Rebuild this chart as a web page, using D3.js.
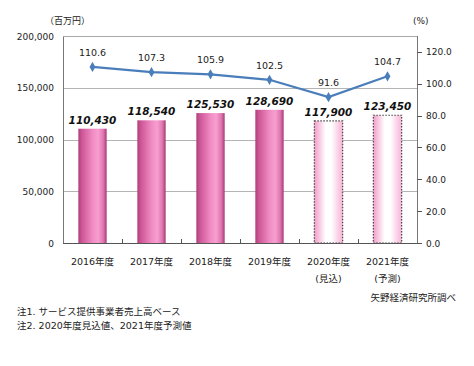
<!DOCTYPE html>
<meta charset="utf-8">
<style>
    body { margin: 0; background: #fff; }
    text {
        font-family: "DejaVu Sans", "Noto Sans CJK JP", sans-serif;
        fill: #222;
    }
    .grid line { stroke: #b4b4b4; stroke-width: 1; }
</style>
<svg width="474" height="366"></svg>
<script src="https://d3js.org/d3.v7.min.js"></script>
<script>
    var years = ["2016年度", "2017年度", "2018年度", "2019年度", "2020年度", "2021年度"];
    var subLabels = ["", "", "", "", "(見込)", "(予測)"];
    var sales = [110430, 118540, 125530, 128690, 117900, 123450];
    var growth = [110.6, 107.3, 105.9, 102.5, 91.6, 104.7];
    var forecast = [false, false, false, false, true, true];
    var leftTicks = [0, 50000, 100000, 150000, 200000];
    var rightTicks = [0, 20, 40, 60, 80, 100, 120];

    var svg = d3.select("svg");
    var plotLeft = 63, plotRight = 417, plotTop = 36, plotBottom = 243;

    var x = d3.scaleBand().domain(years).range([plotLeft, plotRight]).paddingInner(0).paddingOuter(0);
    var y = d3.scaleLinear().domain([0, 200000]).range([plotBottom, plotTop]);
    var y2 = d3.scaleLinear().domain([0, 130]).range([plotBottom, plotTop]);
    var fmt = d3.format(",");

    var defs = svg.append("defs");
    var g1 = defs.append("linearGradient").attr("id", "barGrad");
    [["0%", "#ad3f78"], ["12%", "#cc5596"], ["50%", "#f08bc3"], ["70%", "#f79fd0"], ["88%", "#e075b2"], ["100%", "#a53a72"]]
        .forEach(function (s) { g1.append("stop").attr("offset", s[0]).attr("stop-color", s[1]); });
    var g2 = defs.append("linearGradient").attr("id", "foreGrad");
    [["0%", "#f39cc9"], ["40%", "#ffffff"], ["60%", "#ffffff"], ["100%", "#f7b3d6"]]
        .forEach(function (s) { g2.append("stop").attr("offset", s[0]).attr("stop-color", s[1]); });

    // gridlines
    svg.append("g").attr("class", "grid")
        .selectAll("line")
        .data(leftTicks.slice(1))
        .enter().append("line")
        .attr("x1", plotLeft).attr("x2", plotRight)
        .attr("y1", function (d) { return Math.round(y(d)) + 0.5; })
        .attr("y2", function (d) { return Math.round(y(d)) + 0.5; });

    // bars
    var bw = x.bandwidth() * 0.48;
    svg.append("g").selectAll("rect")
        .data(years)
        .enter().append("rect")
        .attr("x", function (d) { return x(d) + (x.bandwidth() - bw) / 2; })
        .attr("width", bw)
        .attr("y", function (d, i) { return y(sales[i]); })
        .attr("height", function (d, i) { return plotBottom - y(sales[i]); })
        .attr("fill", function (d, i) { return forecast[i] ? "url(#foreGrad)" : "url(#barGrad)"; })
        .attr("stroke", function (d, i) { return forecast[i] ? "#444" : "none"; })
        .attr("stroke-width", 1.2)
        .attr("stroke-dasharray", "1.5,1.5");

    // bar labels
    svg.append("g").selectAll("text")
        .data(years)
        .enter().append("text")
        .attr("x", function (d) { return x(d) + x.bandwidth() / 2; })
        .attr("y", function (d, i) { return y(sales[i]) - 5; })
        .attr("text-anchor", "middle")
        .style("font-size", "10.5px")
        .style("font-weight", "bold")
        .style("font-style", "italic")
        .style("fill", "#111")
        .text(function (d, i) { return fmt(sales[i]); });

    // axes frame
    svg.append("line").attr("x1", plotLeft + 0.5).attr("x2", plotLeft + 0.5).attr("y1", plotTop).attr("y2", plotBottom).attr("stroke", "#777");
    svg.append("line").attr("x1", plotRight + 0.5).attr("x2", plotRight + 0.5).attr("y1", plotTop).attr("y2", plotBottom).attr("stroke", "#777");
    svg.append("line").attr("x1", plotLeft).attr("x2", plotRight).attr("y1", plotTop + 0.5).attr("y2", plotTop + 0.5).attr("stroke", "#aaa");
    svg.append("line").attr("x1", plotLeft).attr("x2", plotRight + 1).attr("y1", plotBottom + 0.5).attr("y2", plotBottom + 0.5).attr("stroke", "#555");

    // x ticks (inward)
    svg.append("g").selectAll("line")
        .data(years.slice(1))
        .enter().append("line")
        .attr("x1", function (d) { return Math.round(x(d)) + 0.5; })
        .attr("x2", function (d) { return Math.round(x(d)) + 0.5; })
        .attr("y1", plotBottom).attr("y2", plotBottom - 4)
        .attr("stroke", "#555");

    // left tick labels
    svg.append("g").selectAll("text")
        .data(leftTicks)
        .enter().append("text")
        .attr("x", 54)
        .attr("y", function (d) { return y(d) + 3.5; })
        .attr("text-anchor", "end")
        .style("font-size", "9px")
        .text(function (d) { return fmt(d); });

    // right axis ticks + labels
    svg.append("g").selectAll("line")
        .data(rightTicks)
        .enter().append("line")
        .attr("x1", plotRight).attr("x2", plotRight + 5)
        .attr("y1", function (d) { return Math.round(y2(d)) + 0.5; })
        .attr("y2", function (d) { return Math.round(y2(d)) + 0.5; })
        .attr("stroke", "#555");
    svg.append("g").selectAll("text")
        .data(rightTicks)
        .enter().append("text")
        .attr("x", 426)
        .attr("y", function (d) { return y2(d) + 3.5; })
        .style("font-size", "9px")
        .text(function (d) { return d.toFixed(1); });

    // growth line
    var cx = function (i) { return x(years[i]) + x.bandwidth() / 2; };
    var line = d3.line()
        .x(function (d, i) { return cx(i); })
        .y(function (d) { return y2(d); });
    svg.append("path")
        .datum(growth)
        .attr("d", line)
        .attr("fill", "none")
        .attr("stroke", "#4a7ebb")
        .attr("stroke-width", 2.2);
    svg.append("g").selectAll("path")
        .data(growth)
        .enter().append("path")
        .attr("d", d3.symbol().type(d3.symbolDiamond).size(30))
        .attr("transform", function (d, i) { return "translate(" + cx(i) + "," + y2(d) + ")"; })
        .attr("fill", "#4a7ebb");
    svg.append("g").selectAll("text")
        .data(growth)
        .enter().append("text")
        .attr("x", function (d, i) { return cx(i); })
        .attr("y", function (d) { return y2(d) - 11; })
        .attr("text-anchor", "middle")
        .style("font-size", "9.5px")
        .text(function (d) { return d.toFixed(1); });

    // x labels
    svg.append("g").selectAll("text")
        .data(years)
        .enter().append("text")
        .attr("x", function (d) { return x(d) + x.bandwidth() / 2; })
        .attr("y", 265)
        .attr("text-anchor", "middle")
        .style("font-size", "9.5px")
        .text(function (d) { return d; });
    svg.append("g").selectAll("text")
        .data(subLabels)
        .enter().append("text")
        .attr("x", function (d, i) { return cx(i); })
        .attr("y", 282)
        .attr("text-anchor", "middle")
        .style("font-size", "9.5px")
        .text(function (d) { return d; });

    // unit labels and notes
    svg.append("text").attr("x", 45).attr("y", 24).style("font-size", "9px").text("（百万円）");
    svg.append("text").attr("x", 413).attr("y", 24).style("font-size", "9px").text("(%)");
    svg.append("text").attr("x", 456).attr("y", 301).attr("text-anchor", "end").style("font-size", "9.5px").text("矢野経済研究所調べ");
    svg.append("text").attr("x", 17).attr("y", 315).style("font-size", "9.5px").text("注1.  サービス提供事業者売上高ベース");
    svg.append("text").attr("x", 17).attr("y", 329).style("font-size", "9.5px").text("注2.  2020年度見込値、2021年度予測値");
</script>
